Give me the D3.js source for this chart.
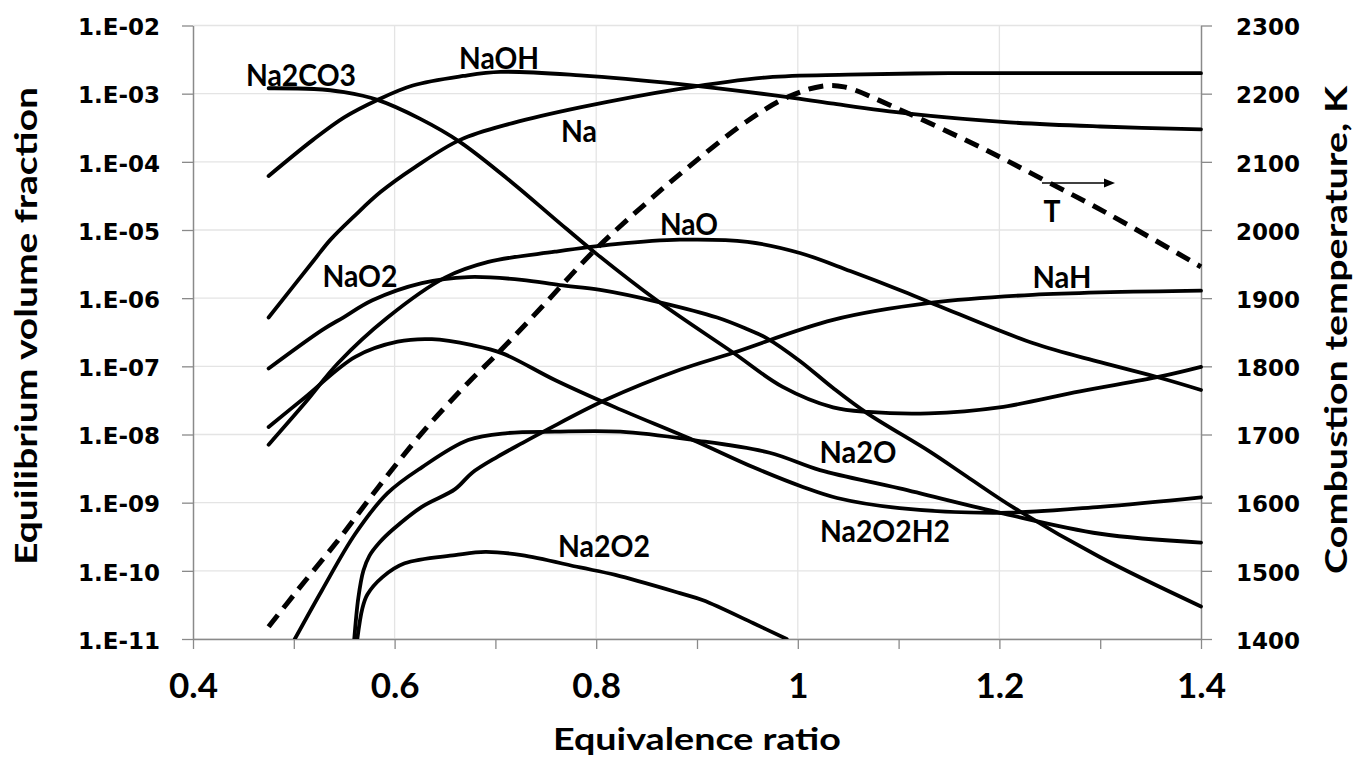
<!DOCTYPE html>
<html><head><meta charset="utf-8">
<script src="https://cdn.jsdelivr.net/npm/d3@7"></script>
<style>
html,body{margin:0;padding:0;background:#fff;}
svg{display:block;}
</style></head>
<body><svg id="chart" width="1356" height="760"></svg>
<script>
// ================= DATA =================
const xTickValues = [0.4, 0.5, 0.6, 0.7, 0.8, 0.9, 1.0, 1.1, 1.2, 1.3, 1.4];
const xTickLabels = ["0.4", "", "0.6", "", "0.8", "", "1", "", "1.2", "", "1.4"];
const xGridValues = [0.6, 0.8, 1.0, 1.2];
const yTickValues = [1e-11, 1e-10, 1e-9, 1e-8, 1e-7, 1e-6, 1e-5, 1e-4, 1e-3, 1e-2];
const yTickLabels = ["1.E-11", "1.E-10", "1.E-09", "1.E-08", "1.E-07", "1.E-06", "1.E-05", "1.E-04", "1.E-03", "1.E-02"];
const tTickValues = [1400, 1500, 1600, 1700, 1800, 1900, 2000, 2100, 2200, 2300];
const tTickLabels = ["1400", "1500", "1600", "1700", "1800", "1900", "2000", "2100", "2200", "2300"];

const xTitle = "Equivalence ratio";
const yTitle = "Equilibrium volume fraction";
const tTitle = "Combustion temperature, K";

// Equivalence ratio (phi) and equilibrium volume fraction per species
const phiNa = [0.475, 0.52, 0.536, 0.56, 0.586, 0.62, 0.665, 0.717, 0.784, 0.883, 0.97, 1.05, 1.15, 1.25, 1.4];
const Na    = [5.2e-7, 3.6e-6, 7.1e-6, 1.6e-5, 3.6e-5, 8.3e-5, 2.1e-4, 3.7e-4, 6.3e-4, 1.18e-3, 1.74e-3, 1.9e-3, 2.0e-3, 2.0e-3, 2.0e-3];

const phiNaOH = [0.475, 0.519, 0.55, 0.583, 0.618, 0.668, 0.705, 0.784, 0.883, 0.99, 1.033, 1.11, 1.21, 1.3, 1.4];
const NaOH    = [6.2e-5, 2.1e-4, 4.5e-4, 8.1e-4, 1.32e-3, 1.82e-3, 2.09e-3, 1.86e-3, 1.38e-3, 8.9e-4, 7.2e-4, 5.1e-4, 3.8e-4, 3.3e-4, 3.0e-4];

const phiNa2CO3 = [0.475, 0.52, 0.55, 0.583, 0.625, 0.665, 0.717, 0.76, 0.8, 0.86, 0.936, 0.985, 1.035, 1.07, 1.13, 1.2, 1.28, 1.36, 1.4];
const Na2CO3    = [1.2e-3, 1.17e-3, 1.05e-3, 8.1e-4, 4.3e-4, 1.95e-4, 4.9e-5, 1.41e-5, 4.5e-6, 9.3e-7, 1.58e-7, 5.0e-8, 2.5e-8, 2.14e-8, 2.04e-8, 2.5e-8, 4.3e-8, 7.1e-8, 9.8e-8];

const phiNaO2 = [0.475, 0.528, 0.549, 0.578, 0.627, 0.673, 0.726, 0.764, 0.804, 0.863, 0.92, 0.95, 0.969, 1.002, 1.035, 1.069, 1.131, 1.168, 1.215, 1.3, 1.4];
const NaO2    = [9.3e-8, 3.4e-7, 5.2e-7, 9.3e-7, 1.66e-6, 2.04e-6, 1.86e-6, 1.55e-6, 1.32e-6, 8.7e-7, 5.2e-7, 3.5e-7, 2.6e-7, 1.2e-7, 4.8e-8, 2.04e-8, 5.6e-9, 2.4e-9, 8.3e-10, 1.58e-10, 3.0e-11];

const phiNaO = [0.475, 0.511, 0.544, 0.593, 0.65, 0.693, 0.759, 0.819, 0.883, 0.95, 1.002, 1.052, 1.101, 1.138, 1.233, 1.3, 1.359, 1.4];
const NaO    = [7.1e-9, 2.9e-8, 1.12e-7, 5.2e-7, 2.0e-6, 3.4e-6, 4.8e-6, 6.2e-6, 7.2e-6, 6.7e-6, 4.6e-6, 2.5e-6, 1.32e-6, 7.9e-7, 2.2e-7, 1.15e-7, 6.8e-8, 4.5e-8];

const phiNaH = [0.56, 0.564, 0.569, 0.575, 0.585, 0.598, 0.627, 0.66, 0.677, 0.702, 0.726, 0.751, 0.809, 0.883, 0.936, 1.035, 1.131, 1.233, 1.4];
const NaH    = [1e-11, 4.0e-11, 1.0e-10, 1.66e-10, 2.6e-10, 4.0e-10, 8.7e-10, 1.58e-9, 2.75e-9, 4.7e-9, 7.4e-9, 1.17e-8, 3.2e-8, 8.9e-8, 1.58e-7, 4.8e-7, 8.5e-7, 1.12e-6, 1.29e-6];

const phiNa2O = [0.501, 0.528, 0.561, 0.593, 0.627, 0.673, 0.712, 0.759, 0.824, 0.896, 0.972, 1.022, 1.101, 1.201, 1.3, 1.4];
const Na2O    = [1e-11, 5.2e-11, 3.5e-10, 1.38e-9, 3.3e-9, 8.3e-9, 1.05e-8, 1.1e-8, 1.1e-8, 8.3e-9, 5.4e-9, 3.0e-9, 1.62e-9, 7.1e-10, 3.5e-10, 2.6e-10];

const phiNa2O2H2 = [0.475, 0.511, 0.561, 0.603, 0.637, 0.677, 0.707, 0.759, 0.819, 0.896, 0.956, 1.005, 1.039, 1.101, 1.201, 1.3, 1.4];
const Na2O2H2    = [1.29e-8, 3.5e-8, 1.38e-7, 2.3e-7, 2.5e-7, 2.04e-7, 1.55e-7, 6.3e-8, 2.5e-8, 8.3e-9, 3.3e-9, 1.7e-9, 1.17e-9, 8.3e-10, 7.1e-10, 8.7e-10, 1.2e-9];

const phiNa2O2 = [0.563, 0.568, 0.573, 0.588, 0.61, 0.66, 0.69, 0.726, 0.784, 0.819, 0.883, 0.906, 0.956, 0.989];
const Na2O2    = [1e-11, 2.8e-11, 4.5e-11, 8.1e-11, 1.29e-10, 1.7e-10, 1.9e-10, 1.7e-10, 1.12e-10, 8.7e-11, 4.7e-11, 3.7e-11, 1.7e-11, 1e-11];

// Combustion temperature, K (right axis)
const phiT = [0.475, 0.504, 0.544, 0.584, 0.627, 0.673, 0.703, 0.746, 0.799, 0.85, 0.883, 0.95, 0.99, 1.024, 1.046, 1.096, 1.183, 1.246, 1.31, 1.4];
const T    = [1418, 1472, 1545, 1623, 1702, 1776, 1820, 1887, 1971, 2040, 2082, 2160, 2195, 2211, 2210, 2180, 2120, 2072, 2022, 1946];

const speciesNames = ["Na2CO3", "NaOH", "Na", "NaO", "NaO2", "NaH", "Na2O", "Na2O2H2", "Na2O2"];
const labelTexts   = ["Na2CO3", "NaOH", "Na", "NaO", "NaO2", "NaH", "Na2O", "Na2O2H2", "Na2O2", "T"];

// ================= LAYOUT (positions / styles) =================
const W = 1356, H = 760;
const plot = {left: 193, right: 1201, top: 25.5, bottom: 639};
const labelLayout = {
  "Na2CO3":  {x: 301, y: 86,  w: 110},
  "NaOH":    {x: 499, y: 68.5, w: 80},
  "Na":      {x: 579, y: 142, w: 36},
  "NaO":     {x: 689, y: 235, w: 58},
  "NaO2":    {x: 360, y: 287, w: 75},
  "NaH":     {x: 1062, y: 288, w: 59},
  "Na2O":    {x: 858, y: 463, w: 77},
  "Na2O2H2": {x: 885, y: 542, w: 130},
  "Na2O2":   {x: 604, y: 557, w: 92},
  "T":       {x: 1052, y: 222, w: 17}
};
const arrowLayout = {x1: 1042, x2: 1115, y: 183};
const labelFont = "Lato, 'Open Sans', 'Noto Sans', sans-serif";
const tickFont = "'DejaVu Sans', Verdana, sans-serif";
const axisColor = "#8a8a8a";
const gridColor = "#e4e4e4";

// ================= CHART =================
const x = d3.scaleLinear().domain([0.4, 1.4]).range([plot.left, plot.right]);
const y = d3.scaleLog().domain([1e-11, 1e-2]).range([plot.bottom, plot.top]);
const yT = d3.scaleLinear().domain([1400, 2300]).range([plot.bottom, plot.top]);

const svg = d3.select("#chart");
svg.append("rect").attr("width", W).attr("height", H).attr("fill", "#fff");

svg.append("defs").append("clipPath").attr("id", "plotclip")
  .append("rect").attr("x", plot.left).attr("y", plot.top - 5)
  .attr("width", plot.right - plot.left + 3).attr("height", plot.bottom - plot.top + 5);

// gridlines
const grid = svg.append("g");
grid.selectAll("line.h").data(yTickValues).join("line").attr("class", "h")
  .attr("x1", plot.left).attr("x2", plot.right)
  .attr("y1", d => y(d)).attr("y2", d => y(d))
  .attr("stroke", gridColor).attr("stroke-width", 1.3);
grid.selectAll("line.v").data(xGridValues).join("line").attr("class", "v")
  .attr("y1", plot.top).attr("y2", plot.bottom)
  .attr("x1", d => x(d)).attr("x2", d => x(d))
  .attr("stroke", gridColor).attr("stroke-width", 1.3);

function styleAxis(g) {
  g.select(".domain").attr("stroke", axisColor).attr("stroke-width", 1.5);
  g.selectAll(".tick line").attr("stroke", axisColor).attr("stroke-width", 1.3);
}

// bottom axis
const gx = svg.append("g").attr("transform", `translate(0,${plot.bottom})`)
  .call(d3.axisBottom(x).tickValues(xTickValues).tickSize(10).tickSizeOuter(0)
    .tickFormat((d, i) => xTickLabels[i]));
styleAxis(gx);
gx.selectAll(".tick text")
  .attr("y", 59).attr("dy", 0)
  .attr("font-family", labelFont).attr("font-weight", 700).attr("font-size", 35)
  .attr("fill", "#000");

// left axis
const gy = svg.append("g").attr("transform", `translate(${plot.left},0)`)
  .call(d3.axisLeft(y).tickValues(yTickValues).tickSize(11).tickSizeOuter(0).tickPadding(22)
    .tickFormat((d, i) => yTickLabels[i]));
styleAxis(gy);
gy.selectAll(".tick text").attr("dy", "0.4em")
  .attr("font-family", tickFont).attr("font-weight", 700).attr("font-size", 23).attr("fill", "#000");

// right axis
const gt = svg.append("g").attr("transform", `translate(${plot.right},0)`)
  .call(d3.axisRight(yT).tickValues(tTickValues).tickSize(11).tickSizeOuter(0).tickPadding(24)
    .tickFormat((d, i) => tTickLabels[i]));
styleAxis(gt);
gt.selectAll(".tick text").attr("dy", "0.4em")
  .attr("font-family", tickFont).attr("font-weight", 700).attr("font-size", 23).attr("fill", "#000");

// axis titles
svg.append("text").attr("x", 697).attr("y", 750).attr("text-anchor", "middle")
  .attr("font-family", labelFont).attr("font-weight", 700).attr("font-size", 31)
  .attr("textLength", 288).attr("lengthAdjust", "spacingAndGlyphs").text(xTitle);
svg.append("text").attr("transform", "translate(37,326) rotate(-90)").attr("text-anchor", "middle")
  .attr("font-family", labelFont).attr("font-weight", 700).attr("font-size", 31)
  .attr("textLength", 478).attr("lengthAdjust", "spacingAndGlyphs").text(yTitle);
svg.append("text").attr("transform", "translate(1347,330) rotate(-90)").attr("text-anchor", "middle")
  .attr("font-family", labelFont).attr("font-weight", 700).attr("font-size", 31)
  .attr("textLength", 488).attr("lengthAdjust", "spacingAndGlyphs").text(tTitle);

// species curves
const seriesPhi = [phiNa2CO3, phiNaOH, phiNa, phiNaO, phiNaO2, phiNaH, phiNa2O, phiNa2O2H2, phiNa2O2];
const seriesVal = [Na2CO3, NaOH, Na, NaO, NaO2, NaH, Na2O, Na2O2H2, Na2O2];
const series = speciesNames.map((name, i) => ({
  name, points: seriesPhi[i].map((p, j) => [p, seriesVal[i][j]])
}));

const line = d3.line().x(d => x(d[0])).y(d => y(d[1])).curve(d3.curveCatmullRom.alpha(0.5));
const lines = svg.append("g").attr("clip-path", "url(#plotclip)");
lines.selectAll("path.sp").data(series).join("path").attr("class", "sp")
  .attr("d", d => line(d.points))
  .attr("fill", "none").attr("stroke", "#000").attr("stroke-width", 3.8)
  .attr("stroke-linecap", "round").attr("stroke-linejoin", "round");

// temperature curve
const tLine = d3.line().x(d => x(d[0])).y(d => yT(d[1])).curve(d3.curveCatmullRom.alpha(0.5));
lines.append("path").attr("d", tLine(phiT.map((p, i) => [p, T[i]])))
  .attr("fill", "none").attr("stroke", "#000").attr("stroke-width", 5)
  .attr("stroke-dasharray", "15,9");

// labels
svg.append("g").selectAll("text").data(labelTexts).join("text")
  .attr("x", d => labelLayout[d].x).attr("y", d => labelLayout[d].y)
  .attr("text-anchor", "middle")
  .attr("font-family", labelFont).attr("font-weight", 700).attr("font-size", 30)
  .attr("textLength", d => labelLayout[d].w).attr("lengthAdjust", "spacingAndGlyphs")
  .attr("fill", "#000").text(d => d);

// arrow pointing to the right axis
const ar = svg.append("g");
ar.append("line").attr("x1", arrowLayout.x1).attr("x2", arrowLayout.x2 - 9)
  .attr("y1", arrowLayout.y).attr("y2", arrowLayout.y)
  .attr("stroke", "#000").attr("stroke-width", 1.6);
ar.append("path")
  .attr("d", `M${arrowLayout.x2},${arrowLayout.y} L${arrowLayout.x2 - 11},${arrowLayout.y - 4.5} L${arrowLayout.x2 - 11},${arrowLayout.y + 4.5} Z`)
  .attr("fill", "#000");
</script>
</body></html>
